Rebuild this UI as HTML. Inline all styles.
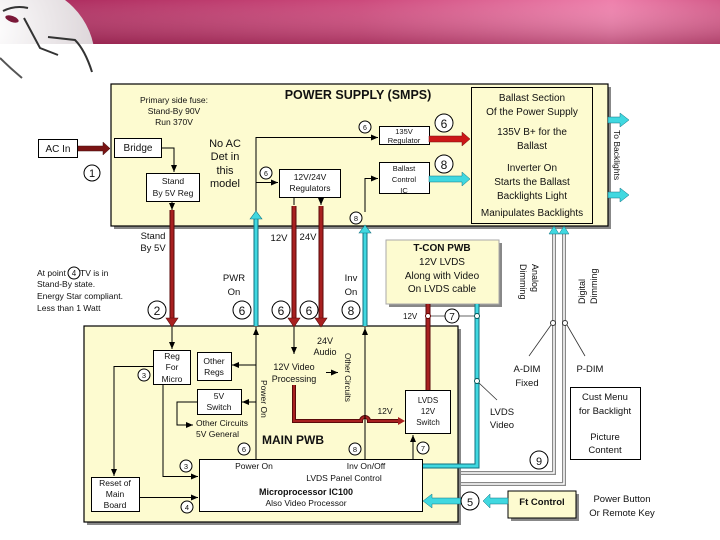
<!DOCTYPE html>
<html><head><meta charset="utf-8"><style>
html,body{margin:0;padding:0;background:#fff;width:720px;height:540px;overflow:hidden}
svg text{font-family:"Liberation Sans",sans-serif;fill:#111}
</style></head><body>
<svg width="720" height="540" viewBox="0 0 720 540" xmlns="http://www.w3.org/2000/svg">
<defs>
<linearGradient id="band" x1="0" x2="1" y1="0" y2="0">
<stop offset="0" stop-color="#a8285a"/><stop offset="0.5" stop-color="#cc4a7c"/><stop offset="0.85" stop-color="#ee80ac"/><stop offset="1" stop-color="#d45c8a"/></linearGradient>
<linearGradient id="bandv" x1="0" x2="0" y1="0" y2="1">
<stop offset="0" stop-color="#fff" stop-opacity="0"/><stop offset="1" stop-color="#6a1030" stop-opacity="0.35"/></linearGradient>
<radialGradient id="circ" cx="0.3" cy="0.3" r="0.8"><stop offset="0" stop-color="#fff"/><stop offset="1" stop-color="#d8d0d4"/></radialGradient>
<marker id="ab" markerWidth="8" markerHeight="8" refX="7" refY="4" orient="auto" markerUnits="userSpaceOnUse"><path d="M0,1 L7,4 L0,7 Z" fill="#000"/></marker>
</defs>
<!-- header band -->
<rect x="0" y="0" width="720" height="44" fill="url(#band)"/>
<rect x="0" y="0" width="720" height="44" fill="url(#bandv)"/>
<clipPath id="cc"><rect x="0" y="0" width="100" height="44"/></clipPath>
<circle cx="20" cy="60" r="75" fill="url(#circ)" clip-path="url(#cc)"/>
<path d="M3,11 Q15,5 28,8" stroke="#333" stroke-width="2" fill="none"/>
<ellipse cx="12" cy="19" rx="7" ry="3" fill="#7a1838" transform="rotate(20 12 19)"/>
<path d="M24,18 L40,48 L58,55 M48,37 L75,40 Q85,50 92,72" stroke="#333" stroke-width="2" fill="none"/>
<path d="M0,58 Q10,68 22,78" stroke="#555" stroke-width="2" fill="none"/>

<!-- POWER SUPPLY box -->
<rect x="114" y="87" width="497" height="142" fill="#888"/>
<rect x="111" y="84" width="497" height="142" fill="#fdfbd0" stroke="#000" stroke-width="1.2"/>
<rect x="471.5" y="87.5" width="121" height="136" fill="#fdfbd0" stroke="#000"/>
<text x="358" y="99" font-size="12.5" font-weight="bold" text-anchor="middle">POWER SUPPLY (SMPS)</text>
<g font-size="8.5" text-anchor="middle"><text x="174" y="103">Primary side fuse:</text><text x="174" y="114">Stand-By 90V</text><text x="174" y="125">Run 370V</text></g>
<g font-size="10" text-anchor="middle"><text x="532" y="101">Ballast Section</text><text x="532" y="115">Of the Power Supply</text>
<text x="532" y="135">135V B+ for the</text><text x="532" y="149">Ballast</text>
<text x="532" y="171">Inverter On</text><text x="532" y="185">Starts the Ballast</text><text x="532" y="199">Backlights Light</text>
<text x="532" y="216">Manipulates Backlights</text></g>
<g font-size="11" text-anchor="middle"><text x="225" y="147">No AC</text><text x="225" y="160">Det in</text><text x="225" y="174">this</text><text x="225" y="187">model</text></g>

<!-- AC in -->
<rect x="38.5" y="139.5" width="39" height="18" fill="#fff" stroke="#000"/><text x="58" y="152" font-size="10" text-anchor="middle">AC In</text>
<path d="M78,146 L103,146 L103,142 L110,148.5 L103,155 L103,151 L78,151 Z" fill="#7a1414" stroke="#401010" stroke-width="0.5"/>
<circle cx="92" cy="173" r="8" fill="#fff" stroke="#000"/><text x="92" y="177" font-size="11" text-anchor="middle">1</text>
<rect x="114.5" y="138.5" width="47" height="19" fill="#fff" stroke="#000"/><text x="138" y="151" font-size="10" text-anchor="middle">Bridge</text>
<path d="M161,148 L174,148 L174,172" stroke="#000" fill="none" marker-end="url(#ab)"/>
<rect x="146.5" y="173.5" width="53" height="28" fill="#fff" stroke="#000"/><text x="173" y="184" font-size="8.5" text-anchor="middle">Stand</text><text x="173" y="196" font-size="8.5" text-anchor="middle">By 5V Reg</text>
<path d="M172,202 L172,210" stroke="#000" marker-end="url(#ab)"/>

<!-- regulators -->
<rect x="279.5" y="169.5" width="61" height="28" fill="#fff" stroke="#000"/><text x="310" y="180" font-size="8.5" text-anchor="middle">12V/24V</text><text x="310" y="191" font-size="8.5" text-anchor="middle">Regulators</text>
<rect x="379.5" y="126.5" width="50" height="18" fill="#fff" stroke="#000"/><text x="404" y="134" font-size="7.5" text-anchor="middle">135V</text><text x="404" y="143" font-size="7.5" text-anchor="middle">Regulator</text>
<rect x="379.5" y="162.5" width="50" height="31" fill="#fff" stroke="#000"/><text x="404" y="171" font-size="7.5" text-anchor="middle">Ballast</text><text x="404" y="182" font-size="7.5" text-anchor="middle">Control</text><text x="404" y="193" font-size="7.5" text-anchor="middle">IC</text>
<path d="M256,212 L256,137.5 L378,137.5" stroke="#000" fill="none" marker-end="url(#ab)"/>
<path d="M256,182.5 L278,182.5" stroke="#000" fill="none" marker-end="url(#ab)"/>
<path d="M365,212 L365,178.5 L378,178.5" stroke="#000" fill="none" marker-end="url(#ab)"/>
<path d="M294,198 L294,205 M321,198 L321,205" stroke="#000" marker-end="url(#ab)"/>
<circle cx="365" cy="127" r="6" fill="#fff" stroke="#000"/><text x="365" y="130" font-size="7" text-anchor="middle">6</text>
<circle cx="266" cy="173" r="6" fill="#fff" stroke="#000"/><text x="266" y="176" font-size="7" text-anchor="middle">6</text>
<circle cx="356" cy="218" r="6" fill="#fff" stroke="#000"/><text x="356" y="221" font-size="7.5" text-anchor="middle">8</text>
<!-- red 135V arrow -->
<path d="M429,136 L462,136 L462,132 L470,139 L462,146 L462,142 L429,142 Z" fill="#cc1818" stroke="#701010" stroke-width="0.5"/>
<circle cx="444" cy="123" r="9" fill="#fff" stroke="#000"/><text x="444" y="128" font-size="12" text-anchor="middle">6</text>
<path d="M429,176 L462,176 L462,172 L470,179 L462,186 L462,182 L429,182 Z" fill="#40d8e0" stroke="#107080" stroke-width="0.5"/>
<circle cx="444" cy="164" r="9" fill="#fff" stroke="#000"/><text x="444" y="169" font-size="12" text-anchor="middle">8</text>
<!-- to backlights -->
<path d="M608,117 L620,117 L620,113 L629,120 L620,127 L620,123 L608,123 Z" fill="#40d8e0" stroke="#107080" stroke-width="0.5"/>
<path d="M608,192 L620,192 L620,188 L629,195 L620,202 L620,198 L608,198 Z" fill="#40d8e0" stroke="#107080" stroke-width="0.5"/>
<text transform="translate(614,130) rotate(90)" font-size="8.5">To Backlights</text>

<!-- dimming lines -->
<path d="M554,232 L554,473 L423,473" stroke="#888" stroke-width="4" fill="none"/>
<path d="M554,232 L554,473 L423,473" stroke="#fff" stroke-width="1.5" fill="none"/>
<path d="M564,232 L564,484 L423,484" stroke="#888" stroke-width="4" fill="none"/>
<path d="M564,232 L564,484 L423,484" stroke="#fff" stroke-width="1.5" fill="none"/>
<path d="M549,234 L554,226 L559,234 Z M559,234 L564,226 L569,234 Z" fill="#40d8e0" stroke="#107080" stroke-width="0.5"/>
<text transform="translate(532,264) rotate(90)" font-size="9" text-anchor="start">Analog</text>
<text transform="translate(520,264) rotate(90)" font-size="9">Dimming</text>
<text transform="translate(585,304) rotate(-90)" font-size="9">Digital</text>
<text transform="translate(597,304) rotate(-90)" font-size="9">Dimming</text>
<circle cx="553" cy="323" r="2.5" fill="#fff" stroke="#333"/><circle cx="565" cy="323" r="2.5" fill="#fff" stroke="#333"/>
<path d="M551,325 L529,356 M567,325 L585,356" stroke="#333" stroke-width="0.8"/>
<g font-size="9.5" text-anchor="middle"><text x="527" y="372">A-DIM</text><text x="527" y="386">Fixed</text><text x="590" y="372">P-DIM</text>
<text x="502" y="415">LVDS</text><text x="502" y="428">Video</text></g>
<rect x="570.5" y="387.5" width="70" height="72" fill="#fff" stroke="#000"/>
<g font-size="9.5" text-anchor="middle"><text x="605" y="400">Cust Menu</text><text x="605" y="414">for Backlight</text><text x="605" y="440">Picture</text><text x="605" y="453">Content</text></g>
<circle cx="539" cy="460" r="9" fill="#fff" stroke="#000"/><text x="539" y="465" font-size="11" text-anchor="middle">9</text>

<!-- T-CON -->
<rect x="389" y="243" width="113" height="64" fill="#888"/>
<rect x="386" y="240" width="113" height="64" fill="#fdfbd0" stroke="#aaa"/>
<g font-size="10" text-anchor="middle"><text x="442" y="251" font-weight="bold">T-CON PWB</text><text x="442" y="265">12V LVDS</text><text x="442" y="279">Along with Video</text><text x="442" y="292">On LVDS cable</text></g>

<!-- left text -->
<g font-size="8.5"><text x="37" y="276">At point</text><text x="80" y="276">TV is in</text><text x="37" y="287">Stand-By state.</text><text x="37" y="299">Energy Star compliant.</text><text x="37" y="311">Less than 1 Watt</text></g>
<circle cx="74" cy="273" r="6" fill="#fff" stroke="#000"/><text x="74" y="276" font-size="8" text-anchor="middle">4</text>
<g font-size="9.5" text-anchor="middle"><text x="153" y="239">Stand</text><text x="153" y="251">By 5V</text><text x="279" y="241">12V</text><text x="308" y="240">24V</text>
<text x="234" y="281">PWR</text><text x="234" y="295">On</text><text x="351" y="281">Inv</text><text x="351" y="295">On</text></g>

<!-- MAIN PWB -->
<rect x="87" y="329" width="374" height="196" fill="#888"/>
<rect x="84" y="326" width="374" height="196" fill="#fdfbd0" stroke="#000" stroke-width="1.2"/>

<!-- red lines -->
<g stroke="#5a0a0a" stroke-width="5"><path d="M172,210 L172,318"/><path d="M294,206 L294,318"/><path d="M321,206 L321,318"/></g>
<g stroke="#a82020" stroke-width="3"><path d="M172,210 L172,318"/><path d="M294,206 L294,318"/><path d="M321,206 L321,318"/></g>
<path d="M166,318 L178,318 L172,327 Z M288,318 L300,318 L294,327 Z M315,318 L327,318 L321,327 Z" fill="#a82020" stroke="#5a0a0a" stroke-width="0.6"/>
<!-- cyan lines -->
<g stroke="#107080" stroke-width="5"><path d="M256,218 L256,326"/><path d="M365,232 L365,326"/></g>
<g stroke="#40d8e0" stroke-width="3"><path d="M256,218 L256,326"/><path d="M365,232 L365,326"/></g>
<path d="M250,219 L256,211 L262,219 Z M359,233 L365,225 L371,233 Z" fill="#40d8e0" stroke="#107080" stroke-width="0.6"/>
<g fill="#fff" stroke="#000"><circle cx="157" cy="310" r="9"/><circle cx="242" cy="310" r="9"/><circle cx="281" cy="310" r="9"/><circle cx="309" cy="310" r="9"/><circle cx="351" cy="310" r="9"/></g>
<g font-size="12" text-anchor="middle"><text x="157" y="315">2</text><text x="242" y="315">6</text><text x="281" y="315">6</text><text x="309" y="315">6</text><text x="351" y="315">8</text></g>

<!-- T-CON connections -->
<path d="M428,304 L428,390" stroke="#5a0a0a" stroke-width="5"/><path d="M428,304 L428,390" stroke="#a82020" stroke-width="3"/>
<path d="M477,304 L477,466 L423,466" stroke="#107080" stroke-width="5" fill="none"/><path d="M477,304 L477,466 L423,466" stroke="#40d8e0" stroke-width="3" fill="none"/>
<path d="M428,316 L477,316" stroke="#333" stroke-width="0.8"/>
<circle cx="428" cy="316" r="2.5" fill="#fff" stroke="#600"/><circle cx="477" cy="316" r="2.5" fill="#fff" stroke="#055"/><circle cx="477" cy="381" r="2.5" fill="#fff" stroke="#055"/>
<path d="M479,383 L497,400" stroke="#333" stroke-width="0.8"/>
<text x="403" y="319" font-size="8">12V</text>
<circle cx="452" cy="316" r="7" fill="#fff" stroke="#000"/><text x="452" y="320" font-size="10" text-anchor="middle">7</text>

<!-- Main internals -->
<rect x="153.5" y="350.5" width="37" height="34" fill="#fff" stroke="#000"/>
<g font-size="8.5" text-anchor="middle"><text x="172" y="359">Reg</text><text x="172" y="370">For</text><text x="172" y="382">Micro</text></g>
<path d="M172,327 L172,349" stroke="#000" marker-end="url(#ab)"/>
<rect x="197.5" y="352.5" width="34" height="28" fill="#fff" stroke="#000"/><text x="214" y="364" font-size="8.5" text-anchor="middle">Other</text><text x="214" y="375" font-size="8.5" text-anchor="middle">Regs</text>
<rect x="197.5" y="389.5" width="44" height="25" fill="#fff" stroke="#000"/><text x="219" y="399" font-size="8.5" text-anchor="middle">5V</text><text x="219" y="410" font-size="8.5" text-anchor="middle">Switch</text>
<path d="M256,327 L256,459" stroke="#000"/><path d="M256,338 L256,328" stroke="#000" marker-end="url(#ab)"/>
<path d="M256,365 L232,365" stroke="#000" marker-end="url(#ab)"/>
<path d="M256,402 L242,402" stroke="#000" marker-end="url(#ab)"/>
<path d="M197,402 L177,402 L177,425 L193,425" stroke="#000" fill="none" marker-end="url(#ab)"/>
<text x="196" y="426" font-size="8.5">Other Circuits</text><text x="196" y="437" font-size="8.5">5V General</text>
<text transform="translate(261,380) rotate(90)" font-size="8.5">Power On</text>
<text x="262" y="444" font-size="12" font-weight="bold">MAIN PWB</text>
<path d="M153,366.5 L114,366.5 L114,476" stroke="#000" fill="none" marker-end="url(#ab)"/>
<path d="M163,384 L163,476.5 L198,476.5" stroke="#000" fill="none" marker-end="url(#ab)"/>
<circle cx="144" cy="375" r="6" fill="#fff" stroke="#000"/><text x="144" y="378" font-size="7.5" text-anchor="middle">3</text>
<circle cx="186" cy="466" r="6" fill="#fff" stroke="#000"/><text x="186" y="469" font-size="7.5" text-anchor="middle">3</text>
<circle cx="187" cy="507" r="6" fill="#fff" stroke="#000"/><text x="187" y="510" font-size="7.5" text-anchor="middle">4</text>
<circle cx="244" cy="449" r="6" fill="#fff" stroke="#000"/><text x="244" y="452" font-size="7.5" text-anchor="middle">6</text>
<circle cx="355" cy="449" r="6" fill="#fff" stroke="#000"/><text x="355" y="452" font-size="7.5" text-anchor="middle">8</text>
<rect x="91.5" y="477.5" width="48" height="34" fill="#fff" stroke="#000"/>
<g font-size="8.5" text-anchor="middle"><text x="115" y="486">Reset of</text><text x="115" y="497">Main</text><text x="115" y="508">Board</text></g>
<path d="M139,497.5 L198,497.5" stroke="#000" marker-end="url(#ab)"/>
<!-- video -->
<path d="M294,327 L294,354" stroke="#000" marker-end="url(#ab)"/>
<text x="294" y="370" font-size="9" text-anchor="middle">12V Video</text><text x="294" y="382" font-size="9" text-anchor="middle">Processing</text>
<text x="325" y="344" font-size="9" text-anchor="middle">24V</text><text x="325" y="355" font-size="9" text-anchor="middle">Audio</text>
<path d="M326,372.5 L338,372.5" stroke="#000" marker-end="url(#ab)"/>
<text transform="translate(345,353) rotate(90)" font-size="8">Other Circuits</text>
<path d="M294,385 L294,421 L361,421 A4,4 0 0 1 369,421 L400,421" stroke="#5a0a0a" stroke-width="4" fill="none"/>
<path d="M294,385 L294,421 L361,421 A4,4 0 0 1 369,421 L400,421" stroke="#a82020" stroke-width="2" fill="none"/>
<path d="M365,327 L365,459" stroke="#000"/><path d="M365,338 L365,328" stroke="#000" marker-end="url(#ab)"/>
<path d="M398,417 L405,421 L398,425 Z" fill="#a82020"/>
<text x="385" y="414" font-size="8.5" text-anchor="middle">12V</text>
<rect x="405.5" y="390.5" width="45" height="43" fill="#fff" stroke="#000"/>
<g font-size="8" text-anchor="middle"><text x="428" y="403">LVDS</text><text x="428" y="414">12V</text><text x="428" y="425">Switch</text></g>
<path d="M413,459 L413,435" stroke="#000" marker-end="url(#ab)"/>
<circle cx="423" cy="448" r="6" fill="#fff" stroke="#000"/><text x="423" y="451" font-size="7.5" text-anchor="middle">7</text>
<!-- MPU -->
<rect x="199.5" y="459.5" width="223" height="52" fill="#fff" stroke="#000"/>
<g font-size="8.5" text-anchor="middle"><text x="254" y="469">Power On</text><text x="366" y="469">Inv On/Off</text><text x="344" y="481">LVDS Panel Control</text>
<text x="306" y="495" font-weight="bold" font-size="9">Microprocessor IC100</text><text x="306" y="506">Also Video Processor</text></g>

<!-- Ft control -->
<rect x="511" y="494" width="68" height="27" fill="#888"/>
<rect x="508" y="491" width="68" height="27" fill="#fdfbd0" stroke="#000"/>
<text x="542" y="505" font-size="9.5" font-weight="bold" text-anchor="middle">Ft Control</text>
<path d="M508,498 L490,498 L490,494 L483,501 L490,508 L490,504 L508,504 Z" fill="#40d8e0" stroke="#107080" stroke-width="0.5"/>
<path d="M461,498 L432,498 L432,494 L423,501 L432,508 L432,504 L461,504 Z" fill="#40d8e0" stroke="#107080" stroke-width="0.5"/>
<circle cx="470" cy="501" r="9" fill="#fff" stroke="#000"/><text x="470" y="506" font-size="11" text-anchor="middle">5</text>
<text x="622" y="502" font-size="9.5" text-anchor="middle">Power Button</text><text x="622" y="516" font-size="9.5" text-anchor="middle">Or Remote Key</text>
</svg>
</body></html>
